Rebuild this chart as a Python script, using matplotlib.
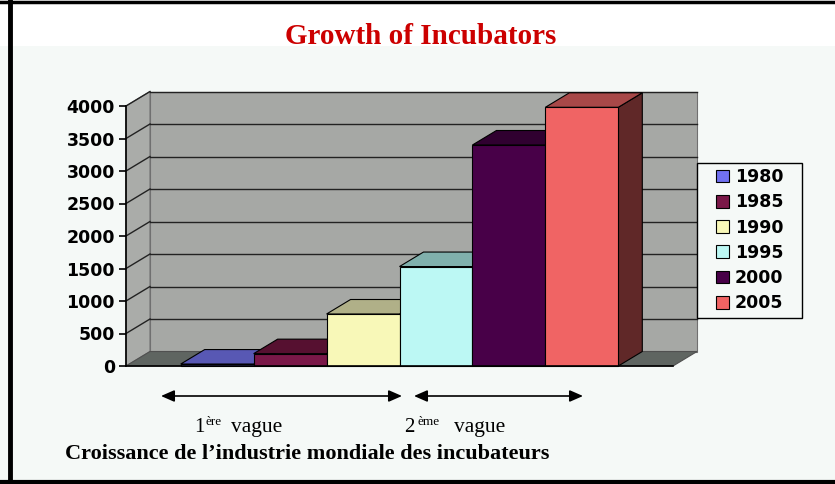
#Growth of Incubators - 3D style column chart
import numpy as np
import matplotlib.pyplot as plt
from matplotlib.patches import Polygon, Rectangle, Patch, FancyArrowPatch

years = ["1980", "1985", "1990", "1995", "2000", "2005"]
incubators = [30, 190, 800, 1530, 3400, 3980]
yticks = [0, 500, 1000, 1500, 2000, 2500, 3000, 3500, 4000]

front_colors = ["#7070f0", "#7a1848", "#f8f8b8", "#bcf8f4", "#480048", "#f06464"]
top_colors = ["#5858b4", "#561030", "#b0b088", "#80b0ac", "#300030", "#a84848"]
side_colors = ["#3a3a80", "#3e0a22", "#808060", "#5a8080", "#200020", "#602828"]

W, H = 835, 484
bg = "#f5f9f7"

fig = plt.figure(figsize=(W / 100, H / 100), dpi=100, facecolor=bg)

def fx(x):
    return x / W

def fy(y):
    return 1 - y / H

# white band behind the title + frame lines
fig.patches.append(Rectangle((0, fy(46)), 1, 1 - fy(46), transform=fig.transFigure,
                             facecolor="white", edgecolor="none", zorder=0))
fig.add_artist(plt.Line2D([0, 1], [fy(2), fy(2)], transform=fig.transFigure, color="black", lw=2.5))
fig.add_artist(plt.Line2D([0, 1], [fy(481.5), fy(481.5)], transform=fig.transFigure, color="black", lw=3))
fig.add_artist(plt.Line2D([fx(9.5), fx(9.5)], [0, 1], transform=fig.transFigure, color="black", lw=3.5))

# axes = front plane of the 3d box
ax = fig.add_axes([fx(126), fy(366), fx(673) - fx(126), fy(106) - fy(366)])
xmax = 7.5
ymax = 4000
ax.set_xlim(0, xmax)
ax.set_ylim(0, ymax)
ax.patch.set_visible(False)

# depth of the box in data units
dx = 24 / 547 * xmax
dy = 14.5 / 260 * ymax

wall = "#a6a8a5"
ax.add_patch(Rectangle((dx, dy), xmax, ymax, facecolor=wall, edgecolor="#707070",
                       lw=0.8, zorder=0, clip_on=False))
ax.add_patch(Polygon([(0, 0), (dx, dy), (dx, ymax + dy), (0, ymax)], closed=True,
                     facecolor="#aaaca9", edgecolor="#707070", lw=0.8, zorder=0, clip_on=False))
ax.add_patch(Polygon([(0, 0), (xmax, 0), (xmax + dx, dy), (dx, dy)], closed=True,
                     facecolor="#5f6561", edgecolor="#505050", lw=0.8, zorder=1, clip_on=False))

for t in yticks[1:]:
    ax.plot([dx, xmax + dx], [t + dy, t + dy], color="#222222", lw=1, zorder=0.5, clip_on=False)
    ax.plot([0, dx], [t, t + dy], color="#222222", lw=1, zorder=0.5, clip_on=False)

# bars: side, top, front
for i, v in enumerate(incubators):
    x0 = 0.75 + i
    x1 = x0 + 1
    z = 2 + 3 * i
    ax.add_patch(Polygon([(x1, 0), (x1 + dx, dy), (x1 + dx, v + dy), (x1, v)], closed=True,
                         facecolor=side_colors[i], edgecolor="black", lw=0.8, zorder=z, clip_on=False))
    ax.add_patch(Polygon([(x0, v), (x1, v), (x1 + dx, v + dy), (x0 + dx, v + dy)], closed=True,
                         facecolor=top_colors[i], edgecolor="black", lw=0.8, zorder=z + 1, clip_on=False))
    ax.bar(x0, v, width=1, align="edge", color=front_colors[i], edgecolor="black",
           lw=0.8, zorder=z + 2, clip_on=False)

for s in ["top", "right"]:
    ax.spines[s].set_visible(False)
ax.spines["left"].set_linewidth(1.2)
ax.spines["bottom"].set_linewidth(1.2)
ax.spines["left"].set_zorder(30)
ax.spines["bottom"].set_zorder(30)
ax.set_xticks([])
ax.set_yticks(yticks)
ax.tick_params(axis="y", length=5, width=1.2, pad=3, labelsize=12.5)
for lab in ax.get_yticklabels():
    lab.set_fontweight("bold")

# legend (frame drawn by hand so the side padding can be wider)
fig.patches.append(Rectangle((fx(697), fy(318)), fx(802) - fx(697), fy(163) - fy(318),
                             transform=fig.transFigure, facecolor=bg, edgecolor="black",
                             lw=1, zorder=1))
handles = [Patch(facecolor=c, edgecolor="black", lw=0.8) for c in front_colors]
leg = fig.legend(handles, years, loc="upper left", bbox_to_anchor=(fx(716), fy(168)),
                 bbox_transform=fig.transFigure, frameon=False,
                 prop={"weight": "bold", "size": 12.5}, handlelength=0.75, handleheight=0.75,
                 handletextpad=0.35, labelspacing=0.42, borderpad=0, borderaxespad=0)
leg.set_zorder(5)

# titles and annotations
serif = "Liberation Serif"
fig.text(fx(421), fy(36), "Growth of Incubators", ha="center", va="center",
         color="#cc0000", fontfamily=serif, fontweight="bold", fontsize=21)

for xa, xb in [(161, 402), (414, 583)]:
    fig.patches.append(FancyArrowPatch((fx(xa), fy(396)), (fx(xb), fy(396)),
                                       transform=fig.transFigure, arrowstyle="<|-|>,head_length=8,head_width=3.5",
                                       color="black", lw=1.2, shrinkA=0, shrinkB=0))

fig.text(fx(194), fy(432), "1", fontfamily=serif, fontsize=15, va="baseline")
fig.text(fx(205), fy(425), "ère", fontfamily=serif, fontsize=9.5, va="baseline")
fig.text(fx(231), fy(432), "vague", fontfamily=serif, fontsize=15.5, va="baseline")
fig.text(fx(404), fy(432), "2", fontfamily=serif, fontsize=15, va="baseline")
fig.text(fx(417), fy(425), "ème", fontfamily=serif, fontsize=9.5, va="baseline")
fig.text(fx(454), fy(432), "vague", fontfamily=serif, fontsize=15.5, va="baseline")

fig.text(fx(65), fy(459), "Croissance de l\u2019industrie mondiale des incubateurs",
         fontfamily=serif, fontweight="bold", fontsize=16, va="baseline")

fig.savefig("out.png", dpi=100, facecolor=bg)
